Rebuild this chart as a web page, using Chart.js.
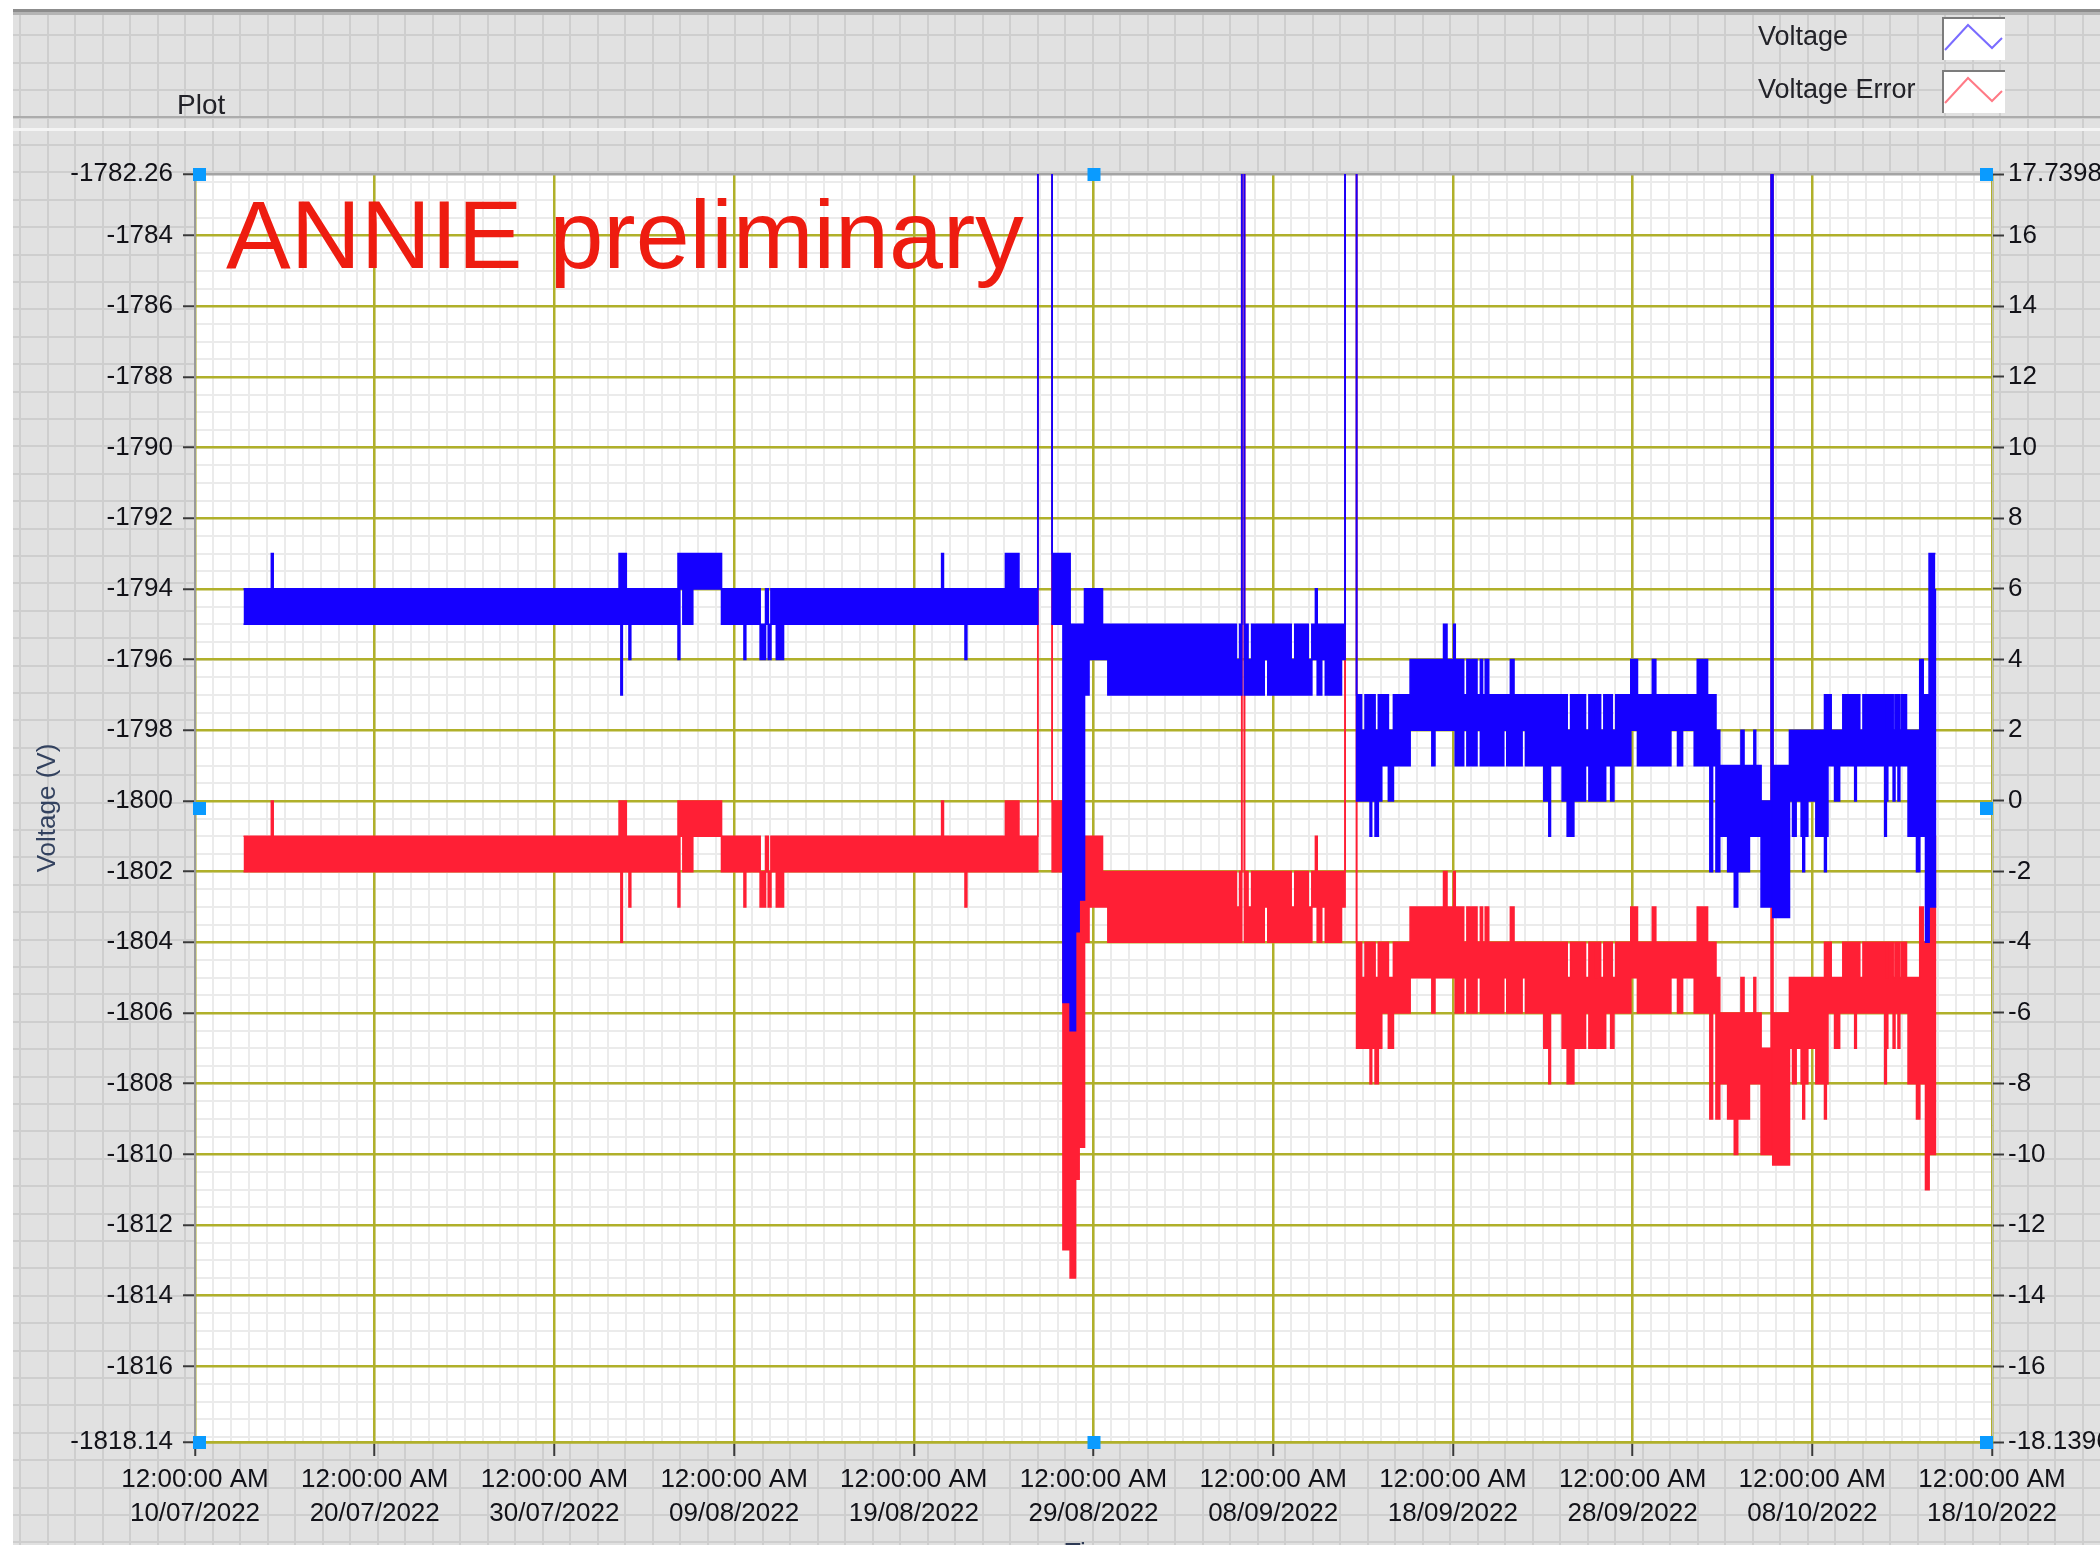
<!DOCTYPE html>
<html>
<head>
<meta charset="utf-8">
<title>HV Voltage</title>
<script src="https://cdn.jsdelivr.net/npm/chart.js@4.4.1/dist/chart.umd.min.js"></script>
<style>
  html, body { margin: 0; padding: 0; background: #fff; }
  canvas { display: block; }
</style>
</head>
<body>
<canvas id="hvChart" width="2100" height="1549"></canvas>
<script>
// Values. x = days after 12:00:00 AM 10/07/2022,
// each value holds until the next time (stepped). Max/min give the band envelope.
// 0 V (and +1793 error) = supply off, line runs off the top of the plot.
const times = [
  2.7, 4.25, 4.35, 23.6, 23.7, 23.78, 24.0, 24.15, 24.25, 26.88,
  26.98, 27.15, 27.7, 29.3, 30.55, 30.65, 31.45, 31.75, 31.9, 32.05,
  32.35, 32.75, 41.55, 41.65, 42.85, 42.95, 45.1, 45.85, 46.9, 47.7,
  48.3, 48.7, 49.0, 49.2, 49.5, 49.75, 50.5, 50.8, 57.95, 58.13,
  58.25, 58.4, 58.6, 58.8, 59.5, 59.7, 61.0, 61.2, 61.95, 62.15,
  62.35, 62.45, 62.7, 62.9, 63.8, 64.0, 64.64, 64.92, 65.11, 65.39,
  65.48, 65.67, 65.85, 66.04, 66.41, 66.69, 67.62, 68.83, 69.0, 69.48,
  69.67, 70.04, 70.13, 70.6, 70.78, 71.34, 71.53, 71.65, 71.8, 71.99,
  72.83, 73.0, 73.2, 73.4, 73.85, 74.04, 75.06, 75.34, 75.43, 76.08,
  76.36, 76.55, 76.73, 77.38, 77.57, 77.94, 78.03, 78.22, 78.4, 78.5,
  78.78, 78.87, 78.96, 79.06, 79.9, 80.27, 81.1, 81.29, 82.13, 82.5,
  82.78, 83.43, 83.6, 84.17, 84.3, 84.45, 84.64, 84.85, 85.29, 85.66,
  85.85, 86.03, 86.2, 86.5, 86.75, 86.85, 87.15, 87.72, 87.8, 88.73,
  88.9, 89.1, 89.38, 89.47, 89.57, 89.75, 90.2, 90.68, 90.78, 90.87,
  91.05, 91.24, 91.52, 91.7, 92.36, 92.45, 92.64, 92.82, 94.03, 94.12,
  94.2, 94.5, 94.6, 94.77, 94.87, 94.97, 95.24, 95.33, 95.8, 95.98,
  96.17, 96.3, 96.5, 96.85
];

const voltMax = [
  -1794, -1793, -1794, -1793, -1793, -1793, -1794, -1794, -1794, -1793,
  -1793, -1793, -1793, -1794, -1794, -1794, -1795, -1794, -1795, -1794,
  -1794, -1794, -1793, -1794, -1794, -1794, -1793, -1794, 0, -1793,
  -1793, -1795, -1795, -1795, -1794, -1794, -1795, -1795, -1796, -1795,
  0, -1795, -1796, -1795, -1795, -1795, -1796, -1795, -1796, -1795,
  -1794, -1795, -1795, -1795, -1795, 0, -1797, -1798, -1797, -1798,
  -1797, -1798, -1797, -1797, -1798, -1797, -1796, -1796, -1796, -1795,
  -1796, -1795, -1796, -1797, -1796, -1797, -1796, -1797, -1796, -1797,
  -1797, -1797, -1796, -1797, -1797, -1797, -1797, -1797, -1797, -1797,
  -1798, -1797, -1797, -1798, -1797, -1798, -1797, -1798, -1797, -1797,
  -1797, -1798, -1798, -1797, -1796, -1797, -1796, -1797, -1797, -1797,
  -1797, -1797, -1796, -1797, -1797, -1797, -1798, -1799, -1799, -1799,
  -1799, -1798, -1799, -1799, -1798, -1799, -1800, 0, -1799, -1798,
  -1798, -1798, -1798, -1798, -1798, -1798, -1798, -1797, -1797, -1797,
  -1798, -1798, -1798, -1797, -1797, -1797, -1798, -1797, -1797, -1798,
  -1797, -1798, -1797, -1797, -1798, -1797, -1798, -1798, -1798, -1796,
  -1797, -1797, -1793, -1793
];

const voltMin = [
  -1795, -1795, -1795, -1795, -1797, -1795, -1795, -1796, -1795, -1796,
  -1794, -1795, -1794, -1795, -1796, -1795, -1796, -1795, -1796, -1795,
  -1796, -1795, -1795, -1795, -1796, -1795, -1795, -1795, 0, -1795,
  -1805.7, -1806.5, -1803.7, -1802.8, -1797, -1796, -1796, -1797, -1797, -1797,
  0, -1797, -1797, -1797, -1796, -1797, -1797, -1797, -1797, -1796,
  -1796, -1797, -1796, -1797, -1796, 0, -1800, -1800, -1800, -1801,
  -1800, -1801, -1800, -1799, -1800, -1799, -1798, -1799, -1798, -1798,
  -1798, -1798, -1799, -1798, -1799, -1798, -1799, -1799, -1799, -1799,
  -1798, -1799, -1799, -1799, -1798, -1799, -1800, -1801, -1799, -1800,
  -1801, -1801, -1800, -1799, -1800, -1800, -1800, -1800, -1800, -1799,
  -1800, -1800, -1799, -1799, -1798, -1799, -1799, -1799, -1798, -1799,
  -1798, -1799, -1799, -1799, -1802, -1799, -1802, -1801, -1802, -1803,
  -1802, -1802, -1802, -1801, -1801, -1801, -1803, 0, -1803.3, -1800,
  -1801, -1800, -1801, -1802, -1801, -1800, -1801, -1802, -1801, -1799,
  -1799, -1800, -1799, -1799, -1800, -1799, -1799, -1799, -1801, -1800,
  -1799, -1800, -1799, -1800, -1799, -1799, -1799, -1801, -1802, -1801,
  -1801, -1804, -1803, -1794
];

const errMax = [
  -1, 0, -1, 0, 0, 0, -1, -1, -1, 0,
  0, 0, 0, -1, -1, -1, -2, -1, -2, -1,
  -1, -1, 0, -1, -1, -1, 0, -1, 1793, 0,
  0, -2, -2, -2, -1, -1, -2, -2, -3, -2,
  1793, -2, -3, -2, -2, -2, -3, -2, -3, -2,
  -1, -2, -2, -2, -2, 1793, -4, -5, -4, -5,
  -4, -5, -4, -4, -5, -4, -3, -3, -3, -2,
  -3, -2, -3, -4, -3, -4, -3, -4, -3, -4,
  -4, -4, -3, -4, -4, -4, -4, -4, -4, -4,
  -5, -4, -4, -5, -4, -5, -4, -5, -4, -4,
  -4, -5, -5, -4, -3, -4, -3, -4, -4, -4,
  -4, -4, -3, -4, -4, -4, -5, -6, -6, -6,
  -6, -5, -6, -6, -5, -6, -7, 1793, -6, -5,
  -5, -5, -5, -5, -5, -5, -5, -4, -4, -4,
  -5, -5, -5, -4, -4, -4, -5, -4, -4, -5,
  -4, -5, -4, -4, -5, -4, -5, -5, -5, -3,
  -4, -4, 0, 0
];

const errMin = [
  -2, -2, -2, -2, -4, -2, -2, -3, -2, -3,
  -1, -2, -1, -2, -3, -2, -3, -2, -3, -2,
  -3, -2, -2, -2, -3, -2, -2, -2, 1793, -2,
  -12.7, -13.5, -10.7, -9.8, -4, -3, -3, -4, -4, -4,
  1793, -4, -4, -4, -3, -4, -4, -4, -4, -3,
  -3, -4, -3, -4, -3, 1793, -7, -7, -7, -8,
  -7, -8, -7, -6, -7, -6, -5, -6, -5, -5,
  -5, -5, -6, -5, -6, -5, -6, -6, -6, -6,
  -5, -6, -6, -6, -5, -6, -7, -8, -6, -7,
  -8, -8, -7, -6, -7, -7, -7, -7, -7, -6,
  -7, -7, -6, -6, -5, -6, -6, -6, -5, -6,
  -5, -6, -6, -6, -9, -6, -9, -8, -9, -10,
  -9, -9, -9, -8, -8, -8, -10, 1793, -10.3, -7,
  -8, -7, -8, -9, -8, -7, -8, -9, -8, -6,
  -6, -7, -6, -6, -7, -6, -6, -6, -8, -7,
  -6, -7, -6, -7, -6, -6, -6, -8, -9, -8,
  -8, -11, -10, -1
];

const xTickDays = [0, 10, 20, 30, 40, 50, 60, 70, 80, 90, 100];
const xTickDates = ['10/07/2022', '20/07/2022', '30/07/2022', '09/08/2022', '19/08/2022', '29/08/2022',
  '08/09/2022', '18/09/2022', '28/09/2022', '08/10/2022', '18/10/2022'];
const leftTicks = [-1782.26, -1784, -1786, -1788, -1790, -1792, -1794, -1796, -1798, -1800,
  -1802, -1804, -1806, -1808, -1810, -1812, -1814, -1816, -1818.14];
const rightTicks = [17.7398, 16, 14, 12, 10, 8, 6, 4, 2, 0,
  -2, -4, -6, -8, -10, -12, -14, -16, -18.1396];

// Colours / fonts
const BLUE = '#1500ff';
const RED = '#ff1f35';
const OLIVE = '#b0b02a';
const MINOR = '#ebebeb';
const TEXT = '#121218';
const TICK = '#3a3a3a';
const FONT = "'Liberation Sans', Arial, sans-serif";

Chart.defaults.font.family = FONT;
Chart.defaults.color = TEXT;

const pts = (vals) => times.map((t, i) => ({ x: t, y: vals[i] }));

// minor grid positions (1 day, 0.5 V)
const minorX = [];
for (let d = 0; d <= 100; d++) minorX.push(d);
const minorY = [];
for (let v = -1818; v <= -1782.5; v += 0.5) minorY.push(v);

// LabVIEW-like front panel behind the graph
const panelPlugin = {
  id: 'panel',
  beforeDraw(chart) {
    const { ctx, chartArea: a, width: w, height: h } = chart;
    ctx.save();
    ctx.fillStyle = '#ffffff';
    ctx.fillRect(0, 0, w, h);
    ctx.fillStyle = '#e1e1e1';
    ctx.fillRect(13, 12, w - 13, h - 16);
    ctx.strokeStyle = '#cecece';
    ctx.lineWidth = 2;
    ctx.beginPath();
    for (let x = 20; x < w; x += 27.5) {
      ctx.moveTo(Math.round(x), 12);
      ctx.lineTo(Math.round(x), h);
    }
    for (let y = 35.4; y < h; y += 27.4) {
      ctx.moveTo(13, Math.round(y));
      ctx.lineTo(w, Math.round(y));
    }
    ctx.stroke();
    ctx.fillStyle = '#8c8c8c';
    ctx.fillRect(13, 9, w - 13, 3);
    ctx.fillStyle = '#b4b4b4';
    ctx.fillRect(13, 12, w - 13, 3);
    ctx.fillStyle = '#acacac';
    ctx.fillRect(13, 116, w - 13, 2);
    ctx.fillStyle = '#f4f4f4';
    ctx.fillRect(13, 128, w - 13, 3);
    ctx.fillStyle = '#ffffff';
    ctx.fillRect(a.left, a.top, a.right - a.left, a.bottom - a.top);
    ctx.restore();
  }
};

const decorPlugin = {
  id: 'decor',
  afterDraw(chart) {
    const { ctx, chartArea: a, width: w, height: h } = chart;
    ctx.save();

    ctx.fillStyle = '#ee1c10';
    ctx.font = "97px 'Liberation Sans', Arial, sans-serif";
    ctx.textBaseline = 'alphabetic';
    ctx.fillText('ANNIE preliminary', a.left + 31, a.top + 94);

    // scale handles
    const midX = (a.left + a.right) / 2;
    const midY = (a.top + a.bottom) / 2;
    const handles = [[a.left + 4, a.top], [a.left + 4, midY], [a.left + 4, a.bottom],
      [midX, a.top], [midX, a.bottom], [a.right - 6, a.top], [a.right - 6, midY], [a.right - 6, a.bottom]];
    ctx.fillStyle = '#0a9bff';
    handles.forEach(([x, y]) => ctx.fillRect(x - 6, y - 6, 13, 13));

    // legend
    ctx.fillStyle = '#222228';
    ctx.textBaseline = 'middle';
    ctx.font = '28px ' + FONT;
    ctx.fillText('Plot', 177, 106);
    ctx.font = '27px ' + FONT;
    ctx.fillText('Voltage', 1758, 38);
    ctx.fillText('Voltage Error', 1758, 91);
    const boxes = [[17, '#7a6cff'], [70, '#ff7a86']];
    boxes.forEach(([top, col]) => {
      ctx.fillStyle = '#ffffff';
      ctx.fillRect(1942, top, 63, 43);
      ctx.fillStyle = '#7c7c7c';
      ctx.fillRect(1942, top, 63, 2);
      ctx.fillRect(1942, top, 2, 43);
      ctx.strokeStyle = col;
      ctx.lineWidth = 2;
      ctx.beginPath();
      ctx.moveTo(1945, top + 33);
      ctx.lineTo(1968, top + 8);
      ctx.lineTo(1992, top + 31);
      ctx.lineTo(2002, top + 21);
      ctx.stroke();
    });

    // white margins of the screenshot
    ctx.fillStyle = '#ffffff';
    ctx.fillRect(0, 1545, w, h - 1545);
    ctx.fillRect(0, 0, 13, h);
    ctx.restore();
  }
};

const lineOpts = { pointRadius: 0, borderWidth: 1.6, stepped: true, clip: 0 };

const chart = new Chart(document.getElementById('hvChart').getContext('2d'), {
  type: 'line',
  data: {
    datasets: [
      { label: 'Voltage', data: pts(voltMax), yAxisID: 'y', borderColor: BLUE, backgroundColor: BLUE, fill: '+1', ...lineOpts },
      { label: 'Voltage (min)', data: pts(voltMin), yAxisID: 'y', borderColor: BLUE, fill: false, ...lineOpts },
      { label: 'Voltage Error', data: pts(errMax), yAxisID: 'y2', borderColor: RED, backgroundColor: RED, fill: '+1', ...lineOpts },
      { label: 'Voltage Error (min)', data: pts(errMin), yAxisID: 'y2', borderColor: RED, fill: false, ...lineOpts },
    ],
  },
  options: {
    responsive: false,
    animation: false,
    devicePixelRatio: 1,
    layout: { padding: { top: 174, left: 0, right: 0, bottom: 0 } },
    plugins: {
      legend: { display: false },
      tooltip: { enabled: false },
    },
    events: [],
    scales: {
      xm: {
        type: 'linear',
        position: 'bottom',
        min: 0,
        max: 100,
        ticks: { display: false },
        grid: { color: MINOR, lineWidth: 2, drawTicks: false, z: -2 },
        border: { display: false },
        afterBuildTicks: (s) => { s.ticks = minorX.map((v) => ({ value: v })); },
        afterFit: (s) => { s.height = 0; },
      },
      ym: {
        type: 'linear',
        position: 'left',
        min: leftTicks[leftTicks.length - 1],
        max: leftTicks[0],
        ticks: { display: false },
        grid: { color: MINOR, lineWidth: 2, drawTicks: false, z: -2 },
        border: { display: false },
        afterBuildTicks: (s) => { s.ticks = minorY.map((v) => ({ value: v })); },
        afterFit: (s) => { s.width = 0; },
      },
      x: {
        type: 'linear',
        position: 'bottom',
        min: 0,
        max: 100,
        afterBuildTicks: (s) => { s.ticks = xTickDays.map((v) => ({ value: v })); },
        afterFit: (s) => { s.height = 107; },
        ticks: {
          autoSkip: false,
          maxRotation: 0,
          minRotation: 0,
          padding: 7,
          color: TEXT,
          font: { size: 26, lineHeight: 1.3 },
          callback: (v, i) => ['12:00:00 AM', xTickDates[i]],
        },
        grid: { color: OLIVE, lineWidth: 2.5, tickColor: TICK, tickWidth: 2, tickLength: 14 },
        border: { color: OLIVE, width: 2.5 },
        title: { display: true, text: 'Time', color: '#2e3a55', font: { size: 26 }, padding: { top: 0, bottom: -20 } },
      },
      y: {
        type: 'linear',
        position: 'left',
        min: leftTicks[leftTicks.length - 1],
        max: leftTicks[0],
        afterBuildTicks: (s) => { s.ticks = leftTicks.map((v) => ({ value: v })); },
        afterFit: (s) => { s.width = 195; },
        ticks: {
          autoSkip: false,
          padding: 10,
          color: TEXT,
          font: { size: 26 },
          callback: (v) => String(v),
        },
        grid: {
          color: (c) => (c.tick && c.tick.value === leftTicks[0] ? '#a4a4a4' : OLIVE),
          lineWidth: 2.5,
          tickColor: TICK,
          tickWidth: 2,
          tickLength: 12,
        },
        border: { color: '#9a9a9a', width: 2 },
        title: { display: true, text: 'Voltage (V)', color: '#33425f', font: { size: 26 }, padding: { top: 32, bottom: 0 } },
      },
      y2: {
        type: 'linear',
        position: 'right',
        min: rightTicks[rightTicks.length - 1],
        max: rightTicks[0],
        afterBuildTicks: (s) => { s.ticks = rightTicks.map((v) => ({ value: v })); },
        afterFit: (s) => { s.width = 108; },
        ticks: {
          autoSkip: false,
          padding: 4,
          color: TEXT,
          font: { size: 26 },
          callback: (v) => String(v),
        },
        grid: { drawOnChartArea: false, tickColor: TICK, tickWidth: 2, tickLength: 12 },
        border: { color: '#bdbdbd', width: 1 },
      },
    },
  },
  plugins: [panelPlugin, decorPlugin],
});
</script>
</body>
</html>
